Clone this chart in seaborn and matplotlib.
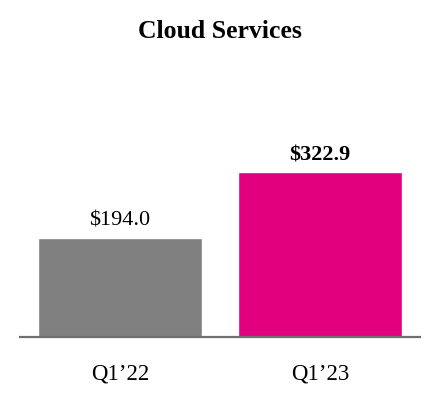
import matplotlib
matplotlib.use('Agg')
import matplotlib.pyplot as plt
import seaborn as sns
import pandas as pd

quarters = ['Q1\u201922', 'Q1\u201923']
revenue = [194.0, 322.9]
bar_colors = ['#808080', '#E2007F']
value_labels = ['$194.0', '$322.9']

sns.set_style('white')
plt.rcParams['font.family'] = ['Liberation Serif', 'DejaVu Serif']
plt.rcParams['text.color'] = 'black'
plt.rcParams['xtick.color'] = 'black'

df = pd.DataFrame({'quarter': quarters, 'revenue': revenue})

fig = plt.figure(figsize=(4.4, 4.0), dpi=100)
ax = fig.add_axes([20/440, 63/400, 400/440, 237/400])
sns.barplot(data=df, x='quarter', y='revenue', hue='quarter', palette=bar_colors,
            width=0.82, legend=False, ax=ax, saturation=1)
ax.set_xlim(-0.5, 1.5)
ax.set_ylim(0, 237 * 322.9 / 165)

for i, (v, lab) in enumerate(zip(revenue, value_labels)):
    ax.annotate(lab, (i, v), xytext=(0, 5), textcoords='offset points',
                ha='center', va='bottom', fontsize=16, color='black',
                fontweight='bold' if i == 1 else 'normal')

for s in ['top', 'right', 'left']:
    ax.spines[s].set_visible(False)
ax.spines['bottom'].set_color('#707070')
ax.spines['bottom'].set_linewidth(1.6)
ax.set_yticks([])
ax.set_xlabel('')
ax.set_ylabel('')
ax.tick_params(axis='x', length=0, pad=19, labelsize=16.5, labelcolor='black')

fig.text(0.5, 1 - 32/400, 'Cloud Services', ha='center', va='center',
         fontsize=18.5, fontweight='bold', color='black')

fig.savefig('out.png', dpi=100)
